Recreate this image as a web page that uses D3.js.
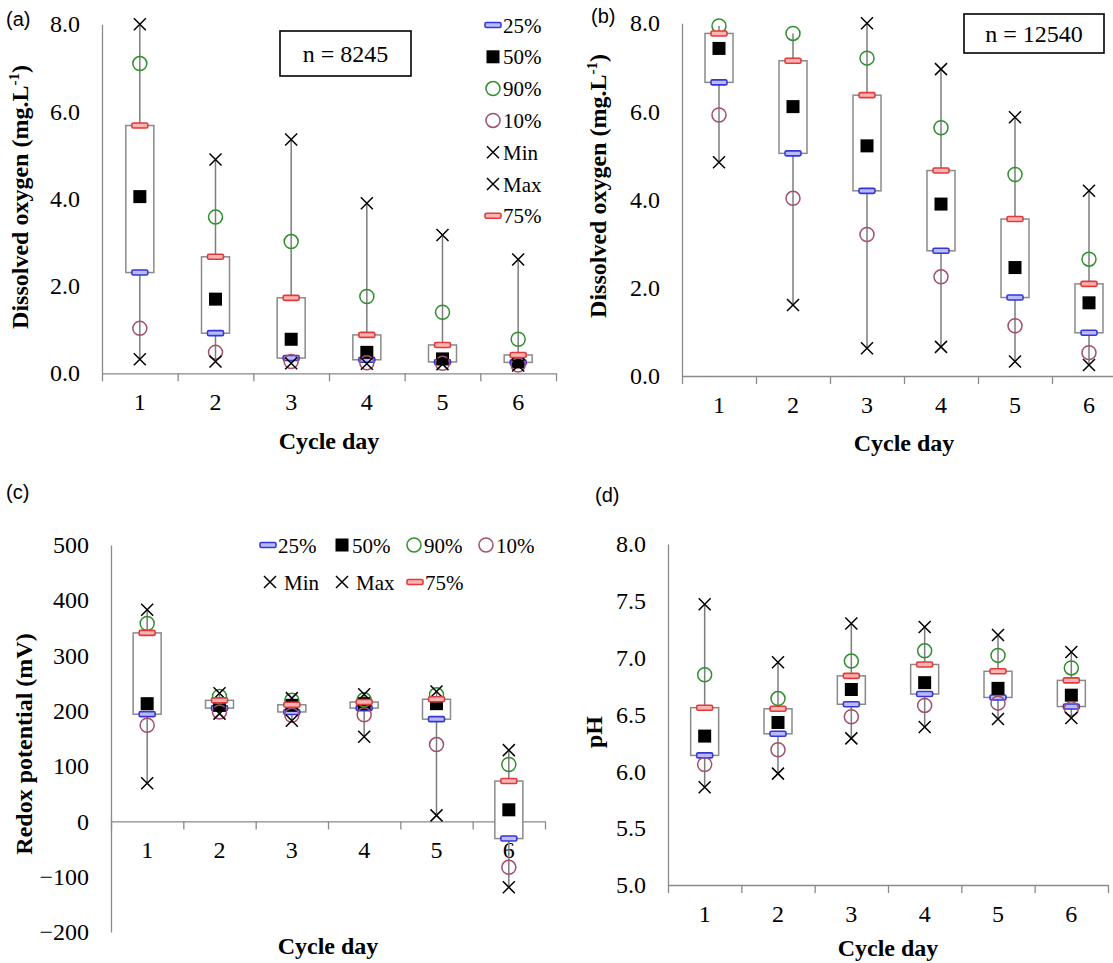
<!DOCTYPE html>
<html>
<head>
<meta charset="utf-8">
<script src="https://cdn.jsdelivr.net/npm/d3@7"></script>
<style>
  html, body { margin: 0; padding: 0; background: #fff; }
  svg { display: block; }
</style>
</head>
<body>
<svg id="chart" width="1113" height="963"></svg>
<script>
// ---------------- DATA ----------------
const days = [1, 2, 3, 4, 5, 6];

// (a) Dissolved oxygen, n = 8245
const doA_max = [8.0, 4.90, 5.36, 3.90, 3.17, 2.61];
const doA_p90 = [7.10, 3.58, 3.02, 1.76, 1.40, 0.78];
const doA_p75 = [5.68, 2.67, 1.73, 0.88, 0.65, 0.42];
const doA_p50 = [4.05, 1.70, 0.78, 0.48, 0.33, 0.26];
const doA_p25 = [2.31, 0.92, 0.35, 0.31, 0.26, 0.25];
const doA_p10 = [1.03, 0.48, 0.27, 0.24, 0.23, 0.19];
const doA_min = [0.32, 0.27, 0.23, 0.22, 0.21, 0.18];

// (b) Dissolved oxygen, n = 12540 (max of days 1-2 not shown in the figure)
const doB_max = [null, null, 8.0, 6.96, 5.87, 4.20];
const doB_p90 = [7.94, 7.77, 7.21, 5.63, 4.57, 2.65];
const doB_p75 = [7.77, 7.15, 6.37, 4.66, 3.56, 2.09];
const doB_p50 = [7.43, 6.11, 5.22, 3.90, 2.46, 1.66];
const doB_p25 = [6.66, 5.05, 4.20, 2.84, 1.78, 0.98];
const doB_p10 = [5.92, 4.03, 3.21, 2.25, 1.14, 0.53];
const doB_min = [4.85, 1.61, 0.63, 0.66, 0.33, 0.25];

// (c) Redox potential (mV)
const orp_max = [383, 232, 223, 230, 235, 129];
const orp_p90 = [358, 226, 219, 220, 229, 103];
const orp_p75 = [341, 219, 211, 216, 221, 73];
const orp_p50 = [213, 210, 210, 213, 213, 21];
const orp_p25 = [194, 205, 198, 205, 185, -31];
const orp_p10 = [174, 198, 192, 193, 139, -83];
const orp_min = [69, 195, 182, 153, 11, -119];

// (d) pH
const ph_max = [7.47, 6.96, 7.30, 7.27, 7.20, 7.05];
const ph_p90 = [6.85, 6.64, 6.97, 7.06, 7.02, 6.91];
const ph_p75 = [6.56, 6.55, 6.84, 6.94, 6.88, 6.80];
const ph_p50 = [6.31, 6.43, 6.72, 6.78, 6.73, 6.67];
const ph_p25 = [6.14, 6.33, 6.59, 6.68, 6.65, 6.57];
const ph_p10 = [6.06, 6.19, 6.48, 6.58, 6.60, 6.55];
const ph_min = [5.86, 5.98, 6.29, 6.39, 6.46, 6.47];

// tick labels
const doTicks = [0, 2, 4, 6, 8];
const orpTicks = [-200, -100, 0, 100, 200, 300, 400, 500];
const phTicks = [5.0, 5.5, 6.0, 6.5, 7.0, 7.5, 8.0];

const legendLabels = ["25%", "50%", "90%", "10%", "Min", "Max", "75%"];
const legendKeys = ["p25", "p50", "p90", "p10", "min", "max", "p75"];

// ---------------- STYLE ----------------
const SERIF = "'Liberation Serif', 'Times New Roman', serif";
const SANS = "'Liberation Sans', Arial, sans-serif";
const GRAY = "#8a8a8a";
const WHISK = "#7c7c7c";
const C = {
  blueStroke: "#3636d8", blueFill: "#b9bcff",
  redStroke: "#e03a3a", redFill: "#ffb3b3",
  green: "#2f8f2f", purple: "#a24f70"
};

const svg = d3.select("#chart");

// marker drawers
function drawMarker(sel, key, cx, cy) {
  if (key === "p25" || key === "p75") {
    sel.append("rect").attr("x", cx - 8).attr("y", cy - 2.5).attr("width", 16).attr("height", 5)
      .attr("rx", 1.5)
      .attr("fill", key === "p25" ? C.blueFill : C.redFill)
      .attr("stroke", key === "p25" ? C.blueStroke : C.redStroke).attr("stroke-width", 1.6);
  } else if (key === "p50") {
    sel.append("rect").attr("x", cx - 6.5).attr("y", cy - 6.5).attr("width", 13).attr("height", 13)
      .attr("fill", "#000");
  } else if (key === "p90" || key === "p10") {
    sel.append("circle").attr("cx", cx).attr("cy", cy).attr("r", 7)
      .attr("fill", "none").attr("stroke", key === "p90" ? C.green : C.purple).attr("stroke-width", 1.5);
  } else {
    const s = 6;
    sel.append("path")
      .attr("d", `M${cx - s},${cy - s}L${cx + s},${cy + s}M${cx - s},${cy + s}L${cx + s},${cy - s}`)
      .attr("stroke", "#000").attr("stroke-width", 1.5).attr("fill", "none");
  }
}

function panel(cfg) {
  const g = svg.append("g");
  const x = d3.scaleBand().domain(days).range([cfg.left, cfg.right]).padding(0);
  const xb = d3.scaleLinear().domain([0, days.length]).range([cfg.left, cfg.right]);
  const y = d3.scaleLinear().domain(cfg.domain).range([cfg.bottom, cfg.top]);
  const cx = d => x(d) + x.bandwidth() / 2;

  // Y axis
  const ya = g.append("g").attr("transform", `translate(${cfg.left},0)`)
    .call(d3.axisLeft(y).tickValues(cfg.ticks).tickFormat(cfg.fmt).tickSize(0).tickPadding(22).tickSizeOuter(0));
  ya.select(".domain").attr("stroke", GRAY).attr("stroke-width", 1.3);
  ya.selectAll("text").attr("font-family", SERIF).attr("font-size", 24).attr("fill", "#000");

  // X axis line + boundary tick marks
  const xl = y(cfg.xAt);
  const xa = g.append("g").attr("transform", `translate(0,${xl})`)
    .call(d3.axisBottom(xb).tickValues(d3.range(days.length + 1)).tickFormat("").tickSize(8).tickSizeOuter(0));
  xa.select(".domain").attr("stroke", GRAY).attr("stroke-width", 1.3);
  xa.selectAll(".tick line").attr("stroke", GRAY).attr("stroke-width", 1.3);

  // X tick labels
  const xt = g.append("g").attr("transform", `translate(0,${xl})`)
    .call(d3.axisBottom(x).tickSize(0).tickPadding(20));
  xt.select(".domain").remove();
  xt.selectAll("text").attr("font-family", SERIF).attr("font-size", 24).attr("fill", "#000");

  // data rows
  const rows = days.map((d, i) => ({
    day: d, max: cfg.max[i], p90: cfg.p90[i], p75: cfg.p75[i], p50: cfg.p50[i],
    p25: cfg.p25[i], p10: cfg.p10[i], min: cfg.min[i]
  }));

  const marks = g.append("g");
  // whiskers
  marks.selectAll("line.whisker").data(rows).join("line").attr("class", "whisker")
    .attr("x1", d => cx(d.day)).attr("x2", d => cx(d.day))
    .attr("y1", d => y(d.min)).attr("y2", d => y(d.max != null ? d.max : d.p90))
    .attr("stroke", WHISK).attr("stroke-width", 1.5);
  // boxes
  marks.selectAll("rect.box").data(rows).join("rect").attr("class", "box")
    .attr("x", d => cx(d.day) - 14).attr("width", 28)
    .attr("y", d => y(d.p75)).attr("height", d => y(d.p25) - y(d.p75))
    .attr("fill", "#fff").attr("stroke", GRAY).attr("stroke-width", 1.5);
  // markers in legend order
  legendKeys.forEach(k => {
    rows.forEach(r => {
      if (r[k] != null) drawMarker(marks, k, cx(r.day), y(r[k]));
    });
  });

  // axis titles
  g.append("text").attr("x", (cfg.left + cfg.right) / 2 + (cfg.xTitleDx || 0)).attr("y", cfg.xTitleY)
    .attr("text-anchor", "middle").attr("font-family", SERIF).attr("font-weight", "bold")
    .attr("font-size", 24).text("Cycle day");

  const yt = g.append("text").attr("transform", `translate(${cfg.yTitleX},${cfg.yTitleY}) rotate(-90)`)
    .attr("text-anchor", "middle").attr("font-family", SERIF).attr("font-weight", "bold")
    .attr("font-size", 24);
  yt.append("tspan").text(cfg.yTitle);
  if (cfg.yTitleSup) {
    yt.append("tspan").attr("font-size", 15).attr("dy", -9).text(cfg.yTitleSup);
    yt.append("tspan").attr("dy", 9).text(cfg.yTitleEnd);
  }

  // panel label
  g.append("text").attr("x", cfg.labX).attr("y", cfg.labY).attr("font-family", SANS)
    .attr("font-size", 20).text(cfg.label);

  return g;
}

const pa = panel({
  label: "(a)", labX: 6, labY: 26,
  left: 102, right: 556, top: 24.3, bottom: 373.3, domain: [0, 8], xAt: 0,
  ticks: doTicks, fmt: d3.format(".1f"),
  max: doA_max, p90: doA_p90, p75: doA_p75, p50: doA_p50, p25: doA_p25, p10: doA_p10, min: doA_min,
  xTitleY: 449, yTitleX: 28, yTitleY: 197,
  yTitle: "Dissolved oxygen (mg.L", yTitleSup: "-1", yTitleEnd: ")"
});

const pb = panel({
  label: "(b)", labX: 591, labY: 23,
  left: 682, right: 1126, top: 23.3, bottom: 376, domain: [0, 8], xAt: 0,
  ticks: doTicks, fmt: d3.format(".1f"),
  max: doB_max, p90: doB_p90, p75: doB_p75, p50: doB_p50, p25: doB_p25, p10: doB_p10, min: doB_min,
  xTitleY: 451, xTitleDx: 0, yTitleX: 606, yTitleY: 186,
  yTitle: "Dissolved oxygen (mg.L", yTitleSup: "-1", yTitleEnd: ")"
});

const pc = panel({
  label: "(c)", labX: 6, labY: 499,
  left: 111, right: 545, top: 545, bottom: 932, domain: [-200, 500], xAt: 0,
  ticks: orpTicks, fmt: d3.format("d"),
  max: orp_max, p90: orp_p90, p75: orp_p75, p50: orp_p50, p25: orp_p25, p10: orp_p10, min: orp_min,
  xTitleY: 954, yTitleX: 32, yTitleY: 744,
  yTitle: "Redox potential (mV)"
});

const pd = panel({
  label: "(d)", labX: 595, labY: 502,
  left: 668, right: 1108, top: 544, bottom: 885, domain: [5, 8], xAt: 5,
  ticks: phTicks, fmt: d3.format(".1f"),
  max: ph_max, p90: ph_p90, p75: ph_p75, p50: ph_p50, p25: ph_p25, p10: ph_p10, min: ph_min,
  xTitleY: 956, yTitleX: 602, yTitleY: 732,
  yTitle: "pH"
});

// n boxes
function nBox(x0, y0, w, h, txt) {
  svg.append("rect").attr("x", x0).attr("y", y0).attr("width", w).attr("height", h)
    .attr("fill", "#fff").attr("stroke", "#000").attr("stroke-width", 1.6);
  svg.append("text").attr("x", x0 + w / 2).attr("y", y0 + h / 2 + 8).attr("text-anchor", "middle")
    .attr("font-family", SERIF).attr("font-size", 24).text(txt);
}
nBox(280, 31, 131, 45, "n = 8245");
nBox(964, 14, 140, 39, "n = 12540");

// legend (a): vertical
const legA = svg.append("g");
legendKeys.forEach((k, i) => {
  const ly = 25 + i * 31.8;
  drawMarker(legA, k, 493, ly);
  legA.append("text").attr("x", 503).attr("y", ly + 7.5).attr("font-family", SERIF)
    .attr("font-size", 21).text(legendLabels[i]);
});

// legend (c): two rows
const legCpos = [
  [268, 545], [342, 545], [414, 545], [486, 545],
  [270, 582], [342, 582], [415, 582]
];
const legC = svg.append("g");
legendKeys.forEach((k, i) => {
  const [mx, my] = legCpos[i];
  drawMarker(legC, k, mx, my);
  const isX = (k === "min" || k === "max");
  legC.append("text").attr("x", mx + (isX ? 14 : 10)).attr("y", my + 7.5).attr("font-family", SERIF)
    .attr("font-size", 21).text(legendLabels[i]);
});
</script>
</body>
</html>
